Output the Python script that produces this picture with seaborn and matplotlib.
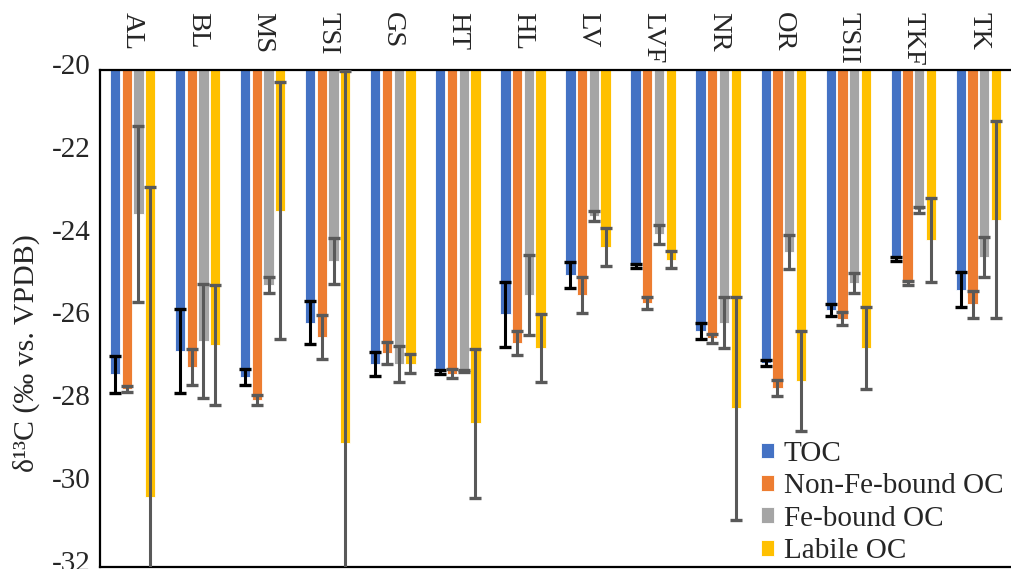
import numpy as np
import pandas as pd
import matplotlib
matplotlib.use("Agg")
import matplotlib.pyplot as plt
import matplotlib.transforms as mtransforms
import seaborn as sns

sites = ["AL", "BL", "MS", "TSI", "GS", "HT", "HL", "LV", "LVF", "NR", "OR", "TSII", "TKF", "TK"]
series = ["TOC", "Non-Fe-bound OC", "Fe-bound OC", "Labile OC"]

toc = [-27.35, -26.78, -27.41, -26.10, -27.10, -27.29, -25.90, -24.95, -24.73, -26.30, -27.07, -25.79, -24.56, -25.30]
toc_err = [0.45, 1.01, 0.19, 0.52, 0.29, 0.05, 0.78, 0.31, 0.05, 0.19, 0.07, 0.14, 0.05, 0.42]
nonfe = [-27.70, -27.17, -27.97, -26.45, -26.83, -27.33, -26.59, -25.43, -25.63, -26.48, -27.68, -26.00, -25.14, -25.66]
nonfe_err = [0.07, 0.43, 0.12, 0.53, 0.27, 0.11, 0.30, 0.43, 0.15, 0.10, 0.19, 0.16, 0.05, 0.33]
fe = [-23.48, -26.54, -25.19, -24.61, -27.10, -27.27, -25.43, -23.52, -23.97, -26.10, -24.39, -25.14, -23.38, -24.51]
fe_err = [2.12, 1.38, 0.19, 0.56, 0.43, 0.03, 0.97, 0.12, 0.23, 0.62, 0.41, 0.24, 0.08, 0.48]
labile = [-30.31, -26.65, -23.40, -29.01, -27.09, -28.53, -26.71, -24.27, -24.58, -28.17, -27.51, -26.71, -24.10, -23.61]
labile_err = [7.48, 1.45, 3.10, 8.98, 0.23, 1.80, 0.82, 0.46, 0.21, 2.69, 1.20, 0.99, 1.01, 2.38]

yticks = [-20, -22, -24, -26, -28, -30, -32]

colors = ["#4472C4", "#ED7D31", "#A5A5A5", "#FFC000"]
err_colors = ["#000000", "#595959", "#595959", "#595959"]

values = [toc, nonfe, fe, labile]
errors = [toc_err, nonfe_err, fe_err, labile_err]

rows = []
for s, vals in zip(series, values):
    for site, v in zip(sites, vals):
        rows.append({"site": site, "series": s, "value": v})
df = pd.DataFrame(rows)

sns.set_style("white")
plt.rcParams["font.family"] = ["Liberation Serif", "DejaVu Serif"]

fig = plt.figure(figsize=(10.11, 5.69), dpi=100)
ax = fig.add_axes([100 / 1011, 2 / 569, 911 / 1011, 497 / 569])

sns.barplot(data=df, x="site", y="value", hue="series", order=sites, hue_order=series,
            palette=colors, errorbar=None, width=0.72, gap=0.12,
            edgecolor="white", linewidth=0.6, ax=ax, saturation=1)

bar_containers = list(ax.containers)
for i, cont in enumerate(bar_containers):
    xs = [p.get_x() + p.get_width() / 2 for p in cont.patches]
    ax.errorbar(xs, values[i], yerr=errors[i], fmt="none", ecolor=err_colors[i],
                elinewidth=2.2, capsize=4, capthick=2.4, zorder=5)

ax.set_ylim(-32, -20)
ax.set_xlim(-0.5, len(sites) - 0.5)
ax.set_yticks(yticks)
ax.set_yticklabels([str(t) for t in yticks], fontsize=21)
ax.tick_params(axis="y", length=0, pad=7)
offset = mtransforms.ScaledTranslation(0, 6 / 100, fig.dpi_scale_trans)
for lab in ax.get_yticklabels():
    lab.set_transform(lab.get_transform() + offset)

ax.xaxis.set_ticks_position("top")
ax.tick_params(axis="x", top=True, labeltop=True, bottom=False, labelbottom=False,
               length=0, pad=41.5)
for lab in ax.get_xticklabels():
    lab.set_rotation(-90)
    lab.set_va("top")
    lab.set_ha("center")
    lab.set_fontsize(20.5)
ax.set_xlabel("")

ax.set_ylabel("δ¹³C (‰ vs. VPDB)", fontsize=21.5)
ax.yaxis.set_label_coords(-0.066, 0.43)

for side in ["left", "top", "bottom"]:
    ax.spines[side].set_visible(True)
    ax.spines[side].set_color("black")
    ax.spines[side].set_linewidth(1.6)
ax.spines["right"].set_visible(False)
ax.grid(False)

handles, labels = ax.get_legend_handles_labels()
ax.legend(handles[:4], labels[:4], loc="lower left", bbox_to_anchor=(0.722, 0.0),
          frameon=False, fontsize=21, handlelength=0.45, handleheight=0.45,
          handletextpad=0.35, labelspacing=0.22, borderpad=0.1, borderaxespad=0)

fig.savefig("out.png", dpi=100)
